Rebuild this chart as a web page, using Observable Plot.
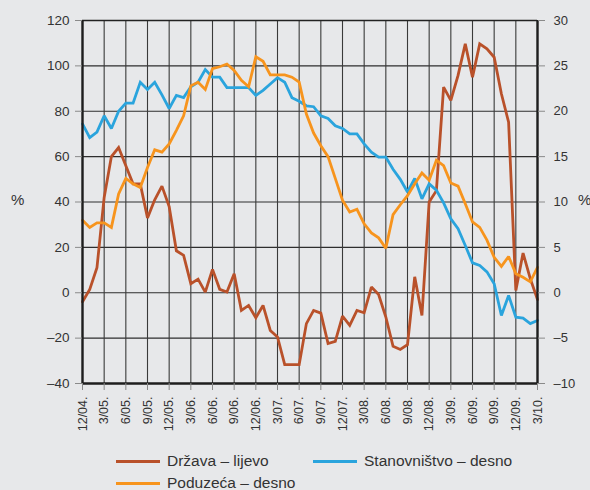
<!DOCTYPE html>
<html><head><meta charset="utf-8">
<script src="https://cdn.jsdelivr.net/npm/d3@7"></script>
<script src="https://cdn.jsdelivr.net/npm/@observablehq/plot@0.6"></script>
<style>
html,body{margin:0;padding:0;background:#e7e8ea;}
#wrap{position:relative;width:590px;height:490px;background:#e7e8ea;font-family:"Liberation Sans",Arial,Helvetica,sans-serif;color:#333;overflow:hidden;}
#chart{position:absolute;left:0;top:0;}
.pct{position:absolute;font-size:15px;color:#333;}
.leg{position:absolute;font-size:15.5px;color:#333;line-height:18px;white-space:nowrap;}
.sw{position:absolute;height:3px;width:44px;}
</style></head>
<body><div id="wrap"><div id="chart"></div></div>
<script>
const months = ["12/04",
"1/05","2/05","3/05","4/05","5/05","6/05","7/05","8/05","9/05","10/05","11/05","12/05",
"1/06","2/06","3/06","4/06","5/06","6/06","7/06","8/06","9/06","10/06","11/06","12/06",
"1/07","2/07","3/07","4/07","5/07","6/07","7/07","8/07","9/07","10/07","11/07","12/07",
"1/08","2/08","3/08","4/08","5/08","6/08","7/08","8/08","9/08","10/08","11/08","12/08",
"1/09","2/09","3/09","4/09","5/09","6/09","7/09","8/09","9/09","10/09","11/09","12/09",
"1/10","2/10","3/10"];
const tickLabels = ["12/04","3/05","6/05","9/05","12/05","3/06","6/06","9/06","12/06","3/07","6/07","9/07","12/07","3/08","6/08","9/08","12/08","3/09","6/09","9/09","12/09","3/10"];
const leftTicks = [-40,-20,0,20,40,60,80,100,120];
const rightTicks = [-10,-5,0,5,10,15,20,25,30];

// Država – lijevo (left axis, %)
const drzava = [-4,1.5,11,42,60,64,56,48,48,33,41,47,38,18.5,16.5,4,6,0.3,10.3,1.5,0.3,8.4,-7.8,-5.6,-11,-5.6,-16.6,-19.5,-31.7,-31.7,-31.7,-13.6,-7.8,-9,-22.4,-21.4,-10.3,-14.4,-7.8,-8.8,2.5,-0.8,-10.7,-23.6,-25,-22.9,7,-10,40,45,90.6,84.8,95.8,109.7,95,109.7,107.5,103.8,87.7,75.2,1,17.5,6.2,-3];
// Stanovništvo – desno (right axis, %)
const stanovnistvo = [18.6,17.1,17.7,19.5,18.1,20,20.9,20.9,23.2,22.4,23.2,21.8,20.3,21.75,21.5,22.7,23.2,24.6,23.75,23.75,22.6,22.6,22.6,22.6,21.75,22.3,23,23.7,23.2,21.5,21.1,20.6,20.5,19.5,19.2,18.4,18.1,17.5,17.5,16.4,15.5,14.95,14.95,13.6,12.5,11.1,12.6,10.35,12,11.3,9.9,8.15,7.05,5.2,3.3,3.0,2.3,1.0,-2.5,-0.3,-2.7,-2.8,-3.4,-3.05];
// Poduzeća – desno (right axis, %)
const poduzeca = [8.0,7.2,7.7,7.7,7.2,10.9,12.6,12.0,11.6,13.8,15.75,15.5,16.4,17.9,19.5,22.8,23.2,22.4,24.7,24.9,25.2,24.5,23.4,22.7,26.0,25.5,24.0,24.0,24.0,23.75,23.2,19.7,17.6,16.2,15.0,12.6,10.2,8.9,9.2,7.6,6.6,6.05,4.9,8.6,9.7,10.7,12.0,13.2,12.4,14.6,14.0,12.1,11.75,9.8,7.8,7.2,5.8,3.9,2.9,4.0,2.1,1.7,1.2,2.8];

const series = [
  {name:"Država – lijevo", values: drzava, factor: 1, color:"#b9512a"},
  {name:"Stanovništvo – desno", values: stanovnistvo, factor: 4, color:"#2aa4dd"},
  {name:"Poduzeća – desno", values: poduzeca, factor: 4, color:"#f7941d"}
];

const fmt = d => d < 0 ? "\u2013" + Math.abs(d) : String(d);

const rows = series.flatMap(s => s.values.map((v, i) => ({name: s.name, month: months[i], y: v * s.factor})));

const chart = Plot.plot({
  width: 590,
  height: 448,
  marginTop: 20,
  marginBottom: 65,
  marginLeft: 82,
  marginRight: 53,
  style: {background: "transparent", fontFamily: "'Liberation Sans', Arial, sans-serif", color: "#333", overflow: "visible"},
  x: {type: "point", domain: months, padding: 0, round: false, axis: null},
  y: {domain: [-40, 120], axis: null},
  color: {domain: series.map(s => s.name), range: series.map(s => s.color)},
  marks: [
    Plot.ruleY(leftTicks, {stroke: "#2e2e2e", strokeWidth: 1.1}),
    Plot.ruleX(tickLabels, {stroke: "#3a3a3a", strokeWidth: 1.1}),
    Plot.ruleY([120], {stroke: "#222", strokeWidth: 1.6}),
    Plot.line(rows, {x: "month", y: "y", z: "name", stroke: "name", strokeWidth: 2.8, strokeLinejoin: "miter", strokeMiterlimit: 2}),
    Plot.ruleX([months[0], months[months.length - 1]], {stroke: "#1e1e1e", strokeWidth: 2.4}),
    Plot.ruleY([-40], {stroke: "#1e1e1e", strokeWidth: 2.6}),
    Plot.axisY(leftTicks, {anchor: "left", label: null, tickSize: 7, tickPadding: 6, stroke: "#8a8a8a", fill: "#333", fontSize: 13.5, tickFormat: fmt}),
    Plot.axisY(rightTicks.map(r => r * 4), {anchor: "right", label: null, tickSize: 7, tickPadding: 9, stroke: "#8a8a8a", fill: "#333", fontSize: 13, tickFormat: d => fmt(d / 4)}),
    Plot.axisX(tickLabels, {anchor: "bottom", label: null, tickSize: 7, tickPadding: 6, tickRotate: -90, stroke: "#8a8a8a", fill: "#333", fontSize: 12.5, tickFormat: d => d + "."})
  ]
});
document.getElementById("chart").appendChild(chart);

const wrap = document.getElementById("wrap");
const addPct = (left) => { const e = document.createElement("div"); e.className = "pct"; e.textContent = "%"; e.style.left = left + "px"; e.style.top = "191px"; wrap.appendChild(e); };
addPct(11); addPct(578);

const legPos = [[116, 461], [313, 461], [116, 483]];
series.forEach((s, k) => {
  const [x, y] = legPos[k];
  const sw = document.createElement("div"); sw.className = "sw"; sw.style.left = x + "px"; sw.style.top = (y - 1.5) + "px"; sw.style.background = s.color; wrap.appendChild(sw);
  const t = document.createElement("div"); t.className = "leg"; t.textContent = s.name; t.style.left = (x + 51) + "px"; t.style.top = (y - 9) + "px"; wrap.appendChild(t);
});
</script></body></html>
